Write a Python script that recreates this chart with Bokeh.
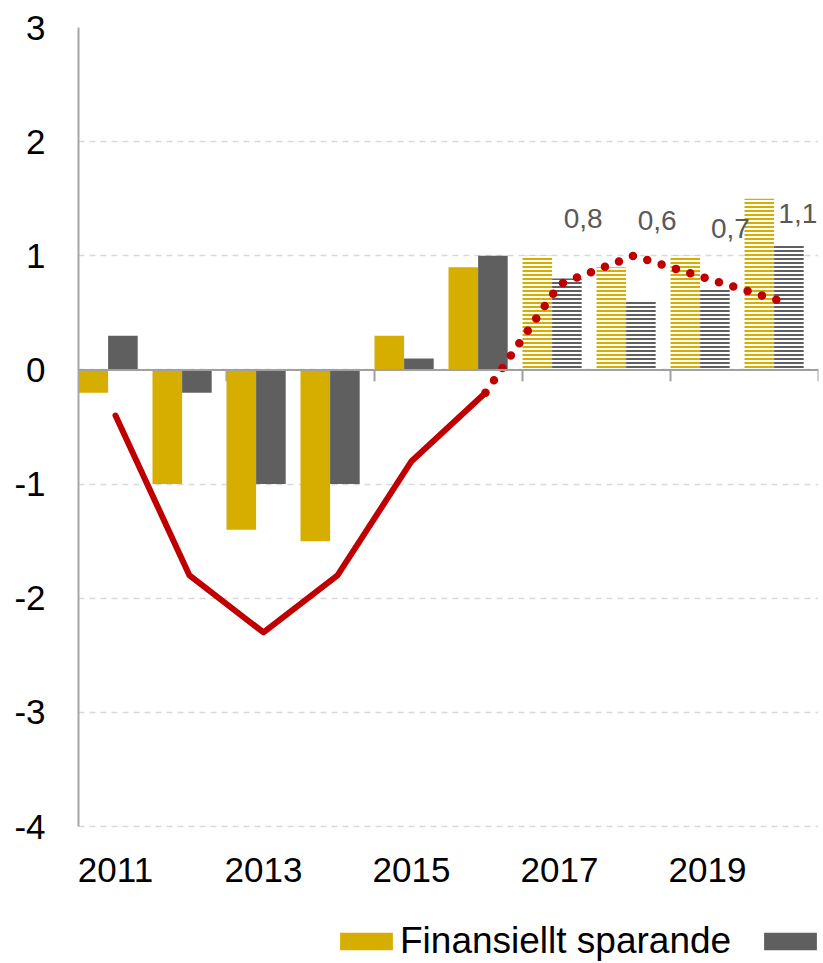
from bokeh.plotting import figure
from bokeh.models import (ColumnDataSource, Range1d, FixedTicker, Span, Legend, LegendItem)
from bokeh.core.properties import value
from bokeh.transform import dodge
from bokeh.embed import file_html
from bokeh.resources import INLINE

# ---------------- data ----------------
years = [2011, 2012, 2013, 2014, 2015, 2016, 2017, 2018, 2019, 2020]
finansiellt = [-0.2, -1.0, -1.4, -1.5, 0.3, 0.9, 1.0, 0.9, 1.0, 1.5]
grey_series = [0.3, -0.2, -1.0, -1.0, 0.1, 1.0, 0.8, 0.6, 0.7, 1.1]
line_years = [2011, 2012, 2013, 2014, 2015, 2016]
line_values = [-0.4, -1.8, -2.3, -1.8, -0.8, -0.2]
forecast_years = [2016, 2017, 2018, 2019, 2020]
forecast_values = [-0.2, 0.75, 1.0, 0.8, 0.6]
y_ticks = [-4, -3, -2, -1, 0, 1, 2, 3]
x_tick_years = [2011, 2013, 2015, 2017, 2019]
n_outcome = 6  # first six years are outcomes, rest forecast (hatched)

# label placement (layout only)
label_dx = [0.32, 0.32, 0.31, 0.22]
label_y = [1.33, 1.31, 1.24, 1.37]

YELLOW = "#D6AE00"
GREY = "#5F5F5F"
RED = "#C00000"
FONT = "Liberation Sans"

Y_MIN, Y_MAX = -4, 3
PLOT_PX = 799            # pixel height of the -4..3 value area
EXTRA_PX = 137           # room below the value area for year labels and legend
px_per_unit = PLOT_PX / (Y_MAX - Y_MIN)
y_lo = Y_MIN - EXTRA_PX / px_per_unit

p = figure(frame_width=740, frame_height=PLOT_PX + EXTRA_PX,
           min_border_left=78, min_border_right=5, min_border_top=27,
           min_border_bottom=0,
           x_range=Range1d(2010.5, 2020.5), y_range=Range1d(y_lo, Y_MAX),
           output_backend="svg", toolbar_location=None)
p.outline_line_color = None
p.background_fill_color = "white"

# grid
p.xgrid.visible = False
p.ygrid.ticker = FixedTicker(ticks=y_ticks)
p.ygrid.grid_line_color = "#D9D9D9"
p.ygrid.grid_line_dash = "6 5"
p.ygrid.grid_line_width = 1.5

# y axis
p.yaxis.ticker = FixedTicker(ticks=y_ticks)
p.yaxis.bounds = (Y_MIN, Y_MAX)
p.yaxis.major_label_overrides = {t: str(t) for t in y_ticks}
p.yaxis.major_label_text_font = FONT
p.yaxis.major_label_text_font_size = "35px"
p.yaxis.major_label_text_color = "black"
p.yaxis.major_tick_in = 0
p.yaxis.major_tick_out = 0
p.yaxis.minor_tick_in = 0
p.yaxis.minor_tick_out = 0
p.yaxis.axis_line_color = "#A6A6A6"
p.yaxis.axis_line_width = 2
p.yaxis.major_label_standoff = 33

# x axis: labels drawn as text beneath the value area
p.xaxis.visible = False
p.text(x=x_tick_years, y=[Y_MIN] * len(x_tick_years),
       text=[str(y) for y in x_tick_years], y_offset=31,
       text_font=value(FONT), text_font_size="35px", text_color="black",
       text_align="center", text_baseline="top")

# tick marks below the zero line at every second category boundary
bounds = [y + 0.5 for y in years[1::2]]
p.segment(x0=bounds, y0=[0] * len(bounds), x1=bounds, y1=[-0.1] * len(bounds),
          line_color="#A0A0A0", line_width=2)

# outcome bars
src_o = ColumnDataSource(dict(x=years[:n_outcome], fin=finansiellt[:n_outcome],
                              grey=grey_series[:n_outcome]))
r_fin = p.vbar(x=dodge("x", -0.3, range=p.x_range), top="fin", width=0.4,
               source=src_o, fill_color=YELLOW, line_color=None)
r_grey = p.vbar(x=dodge("x", 0.1, range=p.x_range), top="grey", width=0.4,
                source=src_o, fill_color=GREY, line_color=None)

# forecast bars (hatched)
src_f = ColumnDataSource(dict(x=years[n_outcome:], fin=finansiellt[n_outcome:],
                              grey=grey_series[n_outcome:]))
p.vbar(x=dodge("x", -0.3, range=p.x_range), top="fin", width=0.4, source=src_f,
       fill_color="white", line_color=None, hatch_pattern="horizontal_line",
       hatch_color=YELLOW, hatch_scale=4, hatch_weight=2)
p.vbar(x=dodge("x", 0.1, range=p.x_range), top="grey", width=0.4, source=src_f,
       fill_color="white", line_color=None, hatch_pattern="horizontal_line",
       hatch_color=GREY, hatch_scale=4, hatch_weight=2)

# zero line
p.add_layout(Span(location=0, dimension="width", line_color="#A0A0A0", line_width=2))

# lines
p.line(forecast_years, forecast_values, line_color=RED, line_width=8.5,
       line_dash="0 15", line_cap="round")
p.line(line_years, line_values, line_color=RED, line_width=6,
       line_cap="round", line_join="round")

# data labels
lab_src = ColumnDataSource(dict(
    x=[y + d for y, d in zip(years[n_outcome:], label_dx)],
    y=label_y,
    t=[f"{v:.1f}".replace(".", ",") for v in grey_series[n_outcome:]]))
p.text(x="x", y="y", text="t", source=lab_src, text_font=value(FONT),
       text_font_size="28px", text_color="#595959", text_align="center",
       text_baseline="middle")

# legend
legend = Legend(items=[LegendItem(label="Finansiellt sparande", renderers=[r_fin]),
                       LegendItem(label=" ", renderers=[r_grey])],
                orientation="horizontal", location=(255, 1),
                glyph_width=66, glyph_height=22, label_standoff=1, spacing=26,
                padding=0, margin=0, border_line_alpha=0,
                background_fill_alpha=0,
                label_text_font=FONT, label_text_font_size="37px",
                label_text_color="black")
p.add_layout(legend, "center")

open("out.html", "w").write(file_html(p, INLINE))
